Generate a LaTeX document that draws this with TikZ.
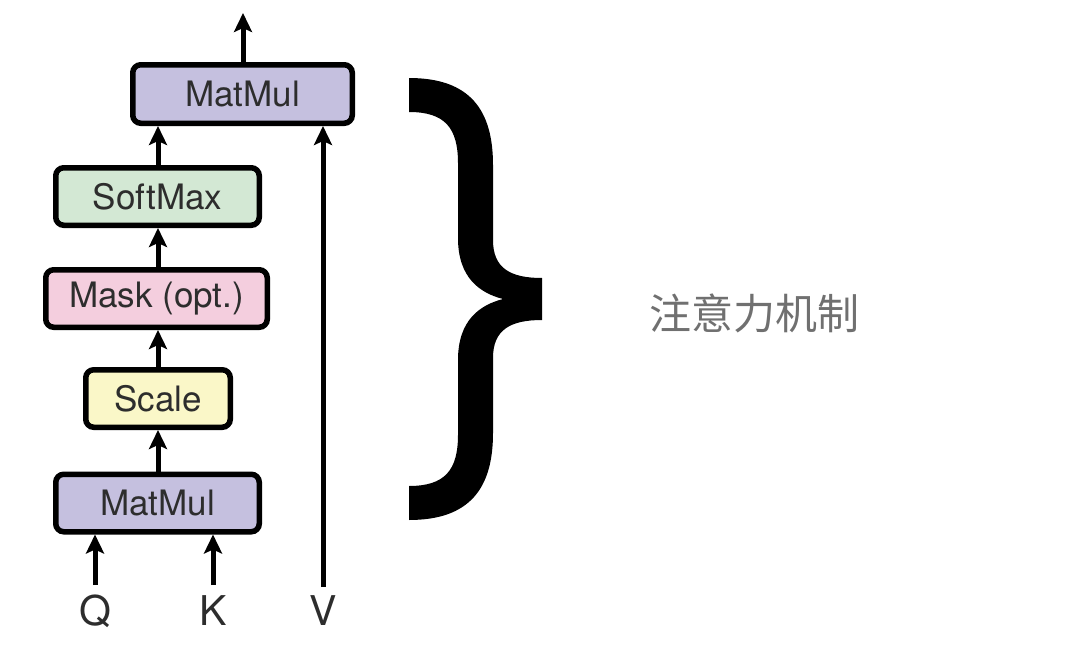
\documentclass[tikz,border=0pt]{standalone}
\usepackage{fontspec}
\setmainfont{TeX Gyre Heros}
\newfontfamily\cjk{Noto Sans CJK SC}
\usetikzlibrary{arrows.meta}
\definecolor{mmpurple}{RGB}{197,192,223}
\definecolor{smgreen}{RGB}{211,232,212}
\definecolor{mkpink}{RGB}{244,206,222}
\definecolor{scyellow}{RGB}{250,247,200}
\definecolor{boxtext}{RGB}{45,45,45}
\definecolor{cjkgrey}{RGB}{112,112,112}
\tikzset{
  opbox/.style={draw=black, line width=5.5pt, rounded corners=8pt, inner sep=0pt,
    minimum height=57.5pt, text=boxtext, font=\fontsize{35}{40}\selectfont},
  flow/.style={line width=5pt, -{Stealth[length=19pt,width=18pt,inset=4pt]}},
  inlabel/.style={inner sep=0pt, text=boxtext, font=\fontsize{41}{46}\selectfont}
}
\begin{document}
\begin{tikzpicture}[x=1pt,y=-1pt]
\useasboundingbox (0,0) rectangle (1080,653);
% boxes
\node[opbox, fill=mmpurple, minimum width=219.5pt, minimum height=58.5pt] (mm2) at (242.5,94) {MatMul};
\node[opbox, fill=smgreen, minimum width=203.5pt] (sm) at (157.5,196.5) {SoftMax};
\node[opbox, fill=mkpink, minimum width=221.5pt] (mask) at (156.5,298.5) {Mask (opt.)};
\node[opbox, fill=scyellow, minimum width=144.5pt] (sc) at (158,398.5) {Scale};
\node[opbox, fill=mmpurple, minimum width=203.5pt] (mm1) at (157.5,503) {MatMul};
% inputs
\node[inlabel] (q) at (95,611) {Q};
\node[inlabel] (k) at (213,611) {K};
\node[inlabel] (v) at (323,611) {V};
\coordinate (qs) at (95,585);
\coordinate (ks) at (213,585);
\coordinate (vs) at (323,587);
\coordinate (out) at (243,13);
% connectors
\draw[flow] (qs) -- (qs |- mm1.south);
\draw[flow] (ks) -- (ks |- mm1.south);
\draw[flow] (mm1.north -| 158,0) -- (sc.south -| 158,0);
\draw[flow] (sc.north -| 158,0) -- (mask.south -| 158,0);
\draw[flow] (mask.north -| 158,0) -- (sm.south -| 158,0);
\draw[flow] (sm.north -| 158,0) -- (mm2.south -| 158,0);
\draw[flow] (vs) -- (vs |- mm2.south);
\draw[flow] (mm2.north -| out) -- (out);
% brace
\fill[black] (409,78) .. controls (470,78) and (493,110) .. (493,165)
  -- (493,240) .. controls (493,268) and (510,278) .. (542,278)
  -- (542,320) .. controls (510,320) and (493,330) .. (493,358)
  -- (493,433) .. controls (493,488) and (470,520) .. (409,520)
  -- (409,486) .. controls (445,486) and (458,470) .. (458,435)
  -- (458,360) .. controls (458,320) and (480,305) .. (503,299)
  .. controls (480,293) and (458,278) .. (458,238)
  -- (458,163) .. controls (458,128) and (445,112) .. (409,112) -- cycle;
\node[inner sep=0pt, text=cjkgrey, font=\cjk\fontsize{42}{48}\selectfont] (label) at (754,313) {注意力机制};
\end{tikzpicture}
\end{document}
